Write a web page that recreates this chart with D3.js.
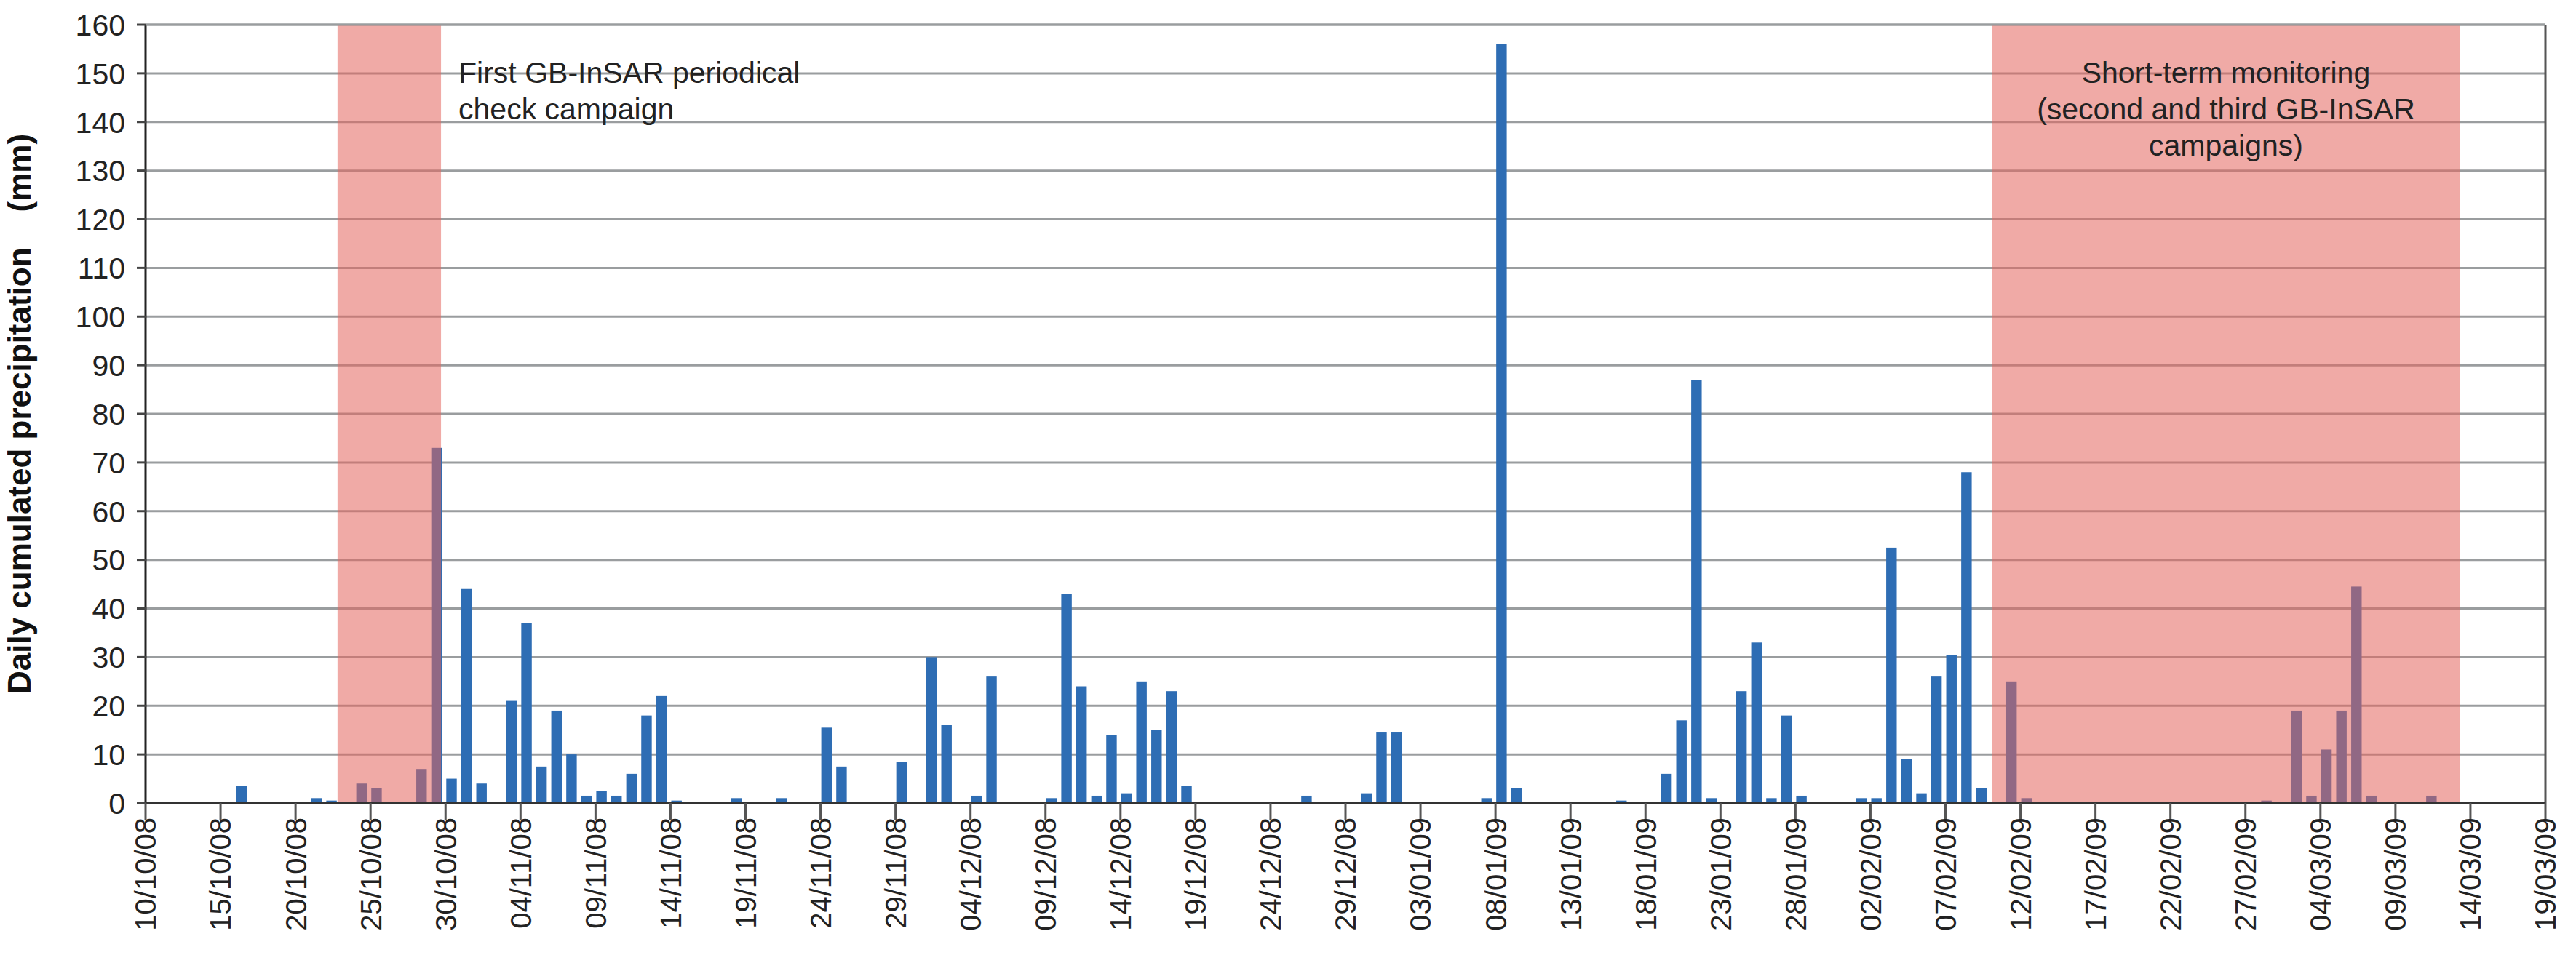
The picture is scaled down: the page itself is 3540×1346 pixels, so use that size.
<!DOCTYPE html>
<html><head><meta charset="utf-8">
<script src="https://cdn.jsdelivr.net/npm/d3@7"></script>
<style>body{margin:0;background:#fff}svg{display:block}</style>
</head><body>
<script>
// day index 0 = 10/10/08
const startDate = new Date(2008, 9, 10);
const nDays = 160;
const rainDays = [6,11,12,14,15,18,19,20,21,22,24,25,26,27,28,29,30,31,32,33,34,35,39,42,45,46,50,52,53,55,56,60,61,62,63,64,65,66,67,68,69,77,81,82,83,89,90,91,98,101,102,103,104,106,107,108,109,110,114,115,116,117,118,119,120,121,122,124,125,141,143,144,145,146,147,148,152];
const rainValues = [3.5,1,0.5,4,3,7,73,5,44,4,21,37,7.5,19,10,1.5,2.5,1.5,6,18,22,0.5,1,1,15.5,7.5,8.5,30,16,1.5,26,1,43,24,1.5,14,2,25,15,23,3.5,1.5,2,14.5,14.5,1,156,3,0.5,6,17,87,1,23,33,1,18,1.5,1,1,52.5,9,2,26,30.5,68,3,25,1,0.5,19,1.5,11,19,44.5,1.5,1.5];
const yTicks = d3.range(0, 161, 10);
const campaigns = [
  {from: 12.8, to: 19.7, lines: ["First GB-InSAR periodical", "check campaign"], anchor: "start"},
  {from: 123.1, to: 154.3, lines: ["Short-term monitoring", "(second and third GB-InSAR", "campaigns)"], anchor: "middle"}
];

const W = 3540, H = 1346;
const m = {l: 200, r: 42, t: 34, b: 242};
const svg = d3.select("body").append("svg").attr("width", W).attr("height", H);
const x = d3.scaleLinear().domain([0, nDays]).range([m.l, W - m.r]);
const y = d3.scaleLinear().domain([0, 160]).range([H - m.b, m.t]);
const dayW = x(1) - x(0);

svg.append("g").selectAll("line").data(yTicks.slice(1)).join("line")
  .attr("x1", m.l).attr("x2", W - m.r).attr("y1", d => y(d)).attr("y2", d => y(d))
  .attr("stroke", "#9a9d9f").attr("stroke-width", 3);

const data = rainDays.map((d, i) => ({day: d, v: rainValues[i]}));
svg.append("g").selectAll("rect").data(data).join("rect")
  .attr("x", d => x(d.day) + dayW * 0.05).attr("width", dayW * 0.7)
  .attr("y", d => y(d.v)).attr("height", d => y(0) - y(d.v))
  .attr("fill", "#2e6db4");

svg.append("g").selectAll("rect").data(campaigns).join("rect")
  .attr("x", d => x(d.from)).attr("width", d => x(d.to) - x(d.from))
  .attr("y", m.t).attr("height", y(0) - m.t)
  .attr("fill", "rgb(228,100,92)").attr("opacity", 0.55);

svg.append("line").attr("x1", m.l).attr("x2", m.l).attr("y1", m.t).attr("y2", y(0)).attr("stroke", "#222").attr("stroke-width", 3);
svg.append("line").attr("x1", W - m.r).attr("x2", W - m.r).attr("y1", m.t).attr("y2", y(0)).attr("stroke", "#555").attr("stroke-width", 3);
svg.append("line").attr("x1", m.l).attr("x2", W - m.r).attr("y1", m.t).attr("y2", m.t).attr("stroke", "#9a9d9f").attr("stroke-width", 3);
svg.append("line").attr("x1", m.l).attr("x2", W - m.r).attr("y1", y(0)).attr("y2", y(0)).attr("stroke", "#333").attr("stroke-width", 3);

const yg = svg.append("g");
yg.selectAll("line").data(yTicks).join("line")
  .attr("x1", m.l - 12).attr("x2", m.l).attr("y1", d => y(d)).attr("y2", d => y(d))
  .attr("stroke", "#444").attr("stroke-width", 3);
yg.selectAll("text").data(yTicks).join("text")
  .attr("x", m.l - 28).attr("y", d => y(d)).attr("dy", "0.36em")
  .attr("text-anchor", "end").attr("font-family", "Liberation Sans, Arial, sans-serif")
  .attr("font-size", 41).attr("fill", "#222").text(d => d);

const fmt = d3.timeFormat("%d/%m/%y");
const xTicks = d3.range(0, nDays + 1, 5);
const xg = svg.append("g");
xg.selectAll("line").data(xTicks).join("line")
  .attr("x1", d => x(d)).attr("x2", d => x(d)).attr("y1", y(0)).attr("y2", y(0) + 24)
  .attr("stroke", "#555").attr("stroke-width", 3);
xg.selectAll("text").data(xTicks).join("text")
  .attr("transform", d => `translate(${x(d)},${y(0) + 20}) rotate(-90)`)
  .attr("dy", "0.36em").attr("text-anchor", "end")
  .attr("font-family", "Liberation Sans, Arial, sans-serif").attr("font-size", 40).attr("fill", "#222")
  .text(d => fmt(d3.timeDay.offset(startDate, d)));

svg.append("text").attr("transform", `translate(42,${(m.t + y(0)) / 2}) rotate(-90)`)
  .attr("text-anchor", "middle").attr("font-family", "Liberation Sans, Arial, sans-serif")
  .attr("font-size", 44).attr("font-weight", "bold").attr("fill", "#111")
  .attr("xml:space", "preserve").text("Daily cumulated precipitation    (mm)");

campaigns.forEach((c) => {
  const tx = c.anchor === "start" ? x(c.to) + 24 : (x(c.from) + x(c.to)) / 2;
  c.lines.forEach((ln, j) => {
    svg.append("text").attr("x", tx).attr("y", y(148) + j * 50)
      .attr("text-anchor", c.anchor).attr("font-family", "Liberation Sans, Arial, sans-serif")
      .attr("font-size", 41).attr("fill", "#222").text(ln);
  });
});
</script>
</body></html>
